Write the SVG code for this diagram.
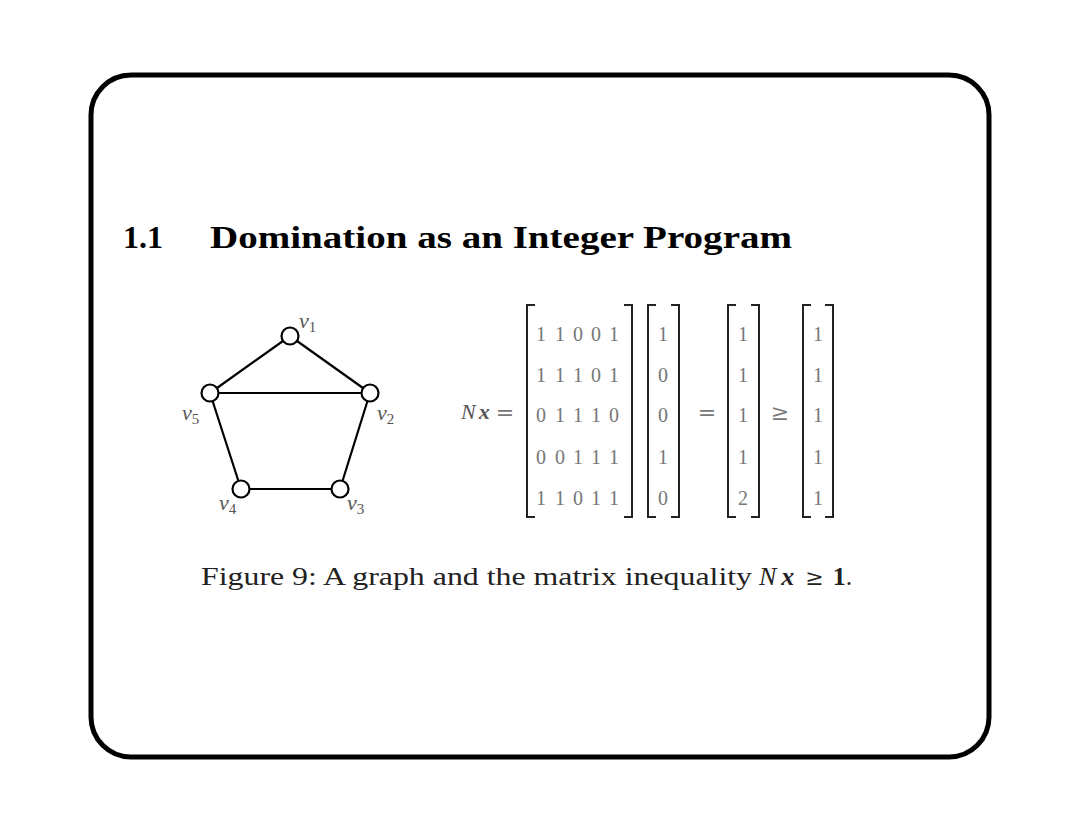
<svg xmlns="http://www.w3.org/2000/svg" width="1080" height="834" viewBox="0 0 1080 834">
<style>
.frame{fill:none;stroke:#000;stroke-width:5}
.edge{stroke:#000;stroke-width:2.2;fill:none}
.node{fill:#fff;stroke:#000;stroke-width:2.2}
.lbl{font-family:"Liberation Serif",serif;font-style:italic;font-size:22px;fill:#555}
.sub{font-size:15px;font-style:normal}
.num{font-family:"Liberation Serif",serif;font-size:20px;fill:#777;text-anchor:middle}
.op{font-family:"DejaVu Serif",serif;font-size:22px;fill:#777;text-anchor:middle}
.br{fill:none;stroke:#222;stroke-width:2}
.title{font-family:"Liberation Serif",serif;font-weight:bold;font-size:32px;fill:#000}
.cap{font-family:"Liberation Serif",serif;font-size:26px;fill:#222}
</style>
<rect width="1080" height="834" fill="#fff"/>
<rect class="frame" x="91" y="75" width="898" height="682" rx="40"/>
<text class="title" x="123" y="248">1.1</text>
<text class="title" x="210" y="248" textLength="582" lengthAdjust="spacingAndGlyphs">Domination as an Integer Program</text>
<g id="connectors">
<line class="edge" x1="290" y1="336" x2="370" y2="393"/>
<line class="edge" x1="290" y1="336" x2="210" y2="393"/>
<line class="edge" x1="210" y1="393" x2="370" y2="393"/>
<line class="edge" x1="370" y1="393" x2="340" y2="489"/>
<line class="edge" x1="210" y1="393" x2="241" y2="489"/>
<line class="edge" x1="241" y1="489" x2="340" y2="489"/>
</g>
<g id="v1"><circle class="node" cx="290" cy="336" r="8.5"/><text class="lbl" x="299" y="328">v<tspan class="sub" dy="4">1</tspan></text></g>
<g id="v2"><circle class="node" cx="370" cy="393" r="8.5"/><text class="lbl" x="377" y="420">v<tspan class="sub" dy="4">2</tspan></text></g>
<g id="v3"><circle class="node" cx="340" cy="489" r="8.5"/><text class="lbl" x="347" y="510">v<tspan class="sub" dy="4">3</tspan></text></g>
<g id="v4"><circle class="node" cx="241" cy="489" r="8.5"/><text class="lbl" x="219" y="510">v<tspan class="sub" dy="4">4</tspan></text></g>
<g id="v5"><circle class="node" cx="210" cy="393" r="8.5"/><text class="lbl" x="182" y="420">v<tspan class="sub" dy="4">5</tspan></text></g>
<g id="equation">
<text x="461" y="419" font-family="Liberation Serif,serif" font-size="22" fill="#555"><tspan font-style="italic">N</tspan><tspan font-style="italic" font-weight="bold" dx="3">x</tspan></text>
<text class="op" x="505" y="420">=</text>
<path class="br" d="M535,305 H527 V517 H535 M624,305 H632 V517 H624"/>
<path class="br" d="M656,305 H648 V517 H656 M671,305 H679 V517 H671"/>
<path class="br" d="M736,305 H728 V517 H736 M751,305 H759 V517 H751"/>
<path class="br" d="M811,305 H803 V517 H811 M825,305 H833 V517 H825"/>
<text class="op" x="707" y="420">=</text>
<text class="op" x="780" y="420">≥</text>
<g class="num">
<text x="541" y="341">1</text><text x="560" y="341">1</text><text x="578" y="341">0</text><text x="596" y="341">0</text><text x="614" y="341">1</text>
<text x="541" y="382">1</text><text x="560" y="382">1</text><text x="578" y="382">1</text><text x="596" y="382">0</text><text x="614" y="382">1</text>
<text x="541" y="422">0</text><text x="560" y="422">1</text><text x="578" y="422">1</text><text x="596" y="422">1</text><text x="614" y="422">0</text>
<text x="541" y="464">0</text><text x="560" y="464">0</text><text x="578" y="464">1</text><text x="596" y="464">1</text><text x="614" y="464">1</text>
<text x="541" y="505">1</text><text x="560" y="505">1</text><text x="578" y="505">0</text><text x="596" y="505">1</text><text x="614" y="505">1</text>
<text x="663" y="341">1</text><text x="663" y="382">0</text><text x="663" y="422">0</text><text x="663" y="464">1</text><text x="663" y="505">0</text>
<text x="743" y="341">1</text><text x="743" y="382">1</text><text x="743" y="422">1</text><text x="743" y="464">1</text><text x="743" y="505">2</text>
<text x="818" y="341">1</text><text x="818" y="382">1</text><text x="818" y="422">1</text><text x="818" y="464">1</text><text x="818" y="505">1</text>
</g>
</g>
<text class="cap" x="201" y="585" textLength="551" lengthAdjust="spacingAndGlyphs">Figure 9: A graph and the matrix inequality</text>
<text class="cap" x="759" y="585"><tspan font-style="italic">N</tspan><tspan font-style="italic" font-weight="bold" dx="5">x</tspan><tspan dx="11" font-family="DejaVu Serif,serif" font-size="22">≥</tspan><tspan dx="9" font-weight="bold">1</tspan>.</text>
</svg>
